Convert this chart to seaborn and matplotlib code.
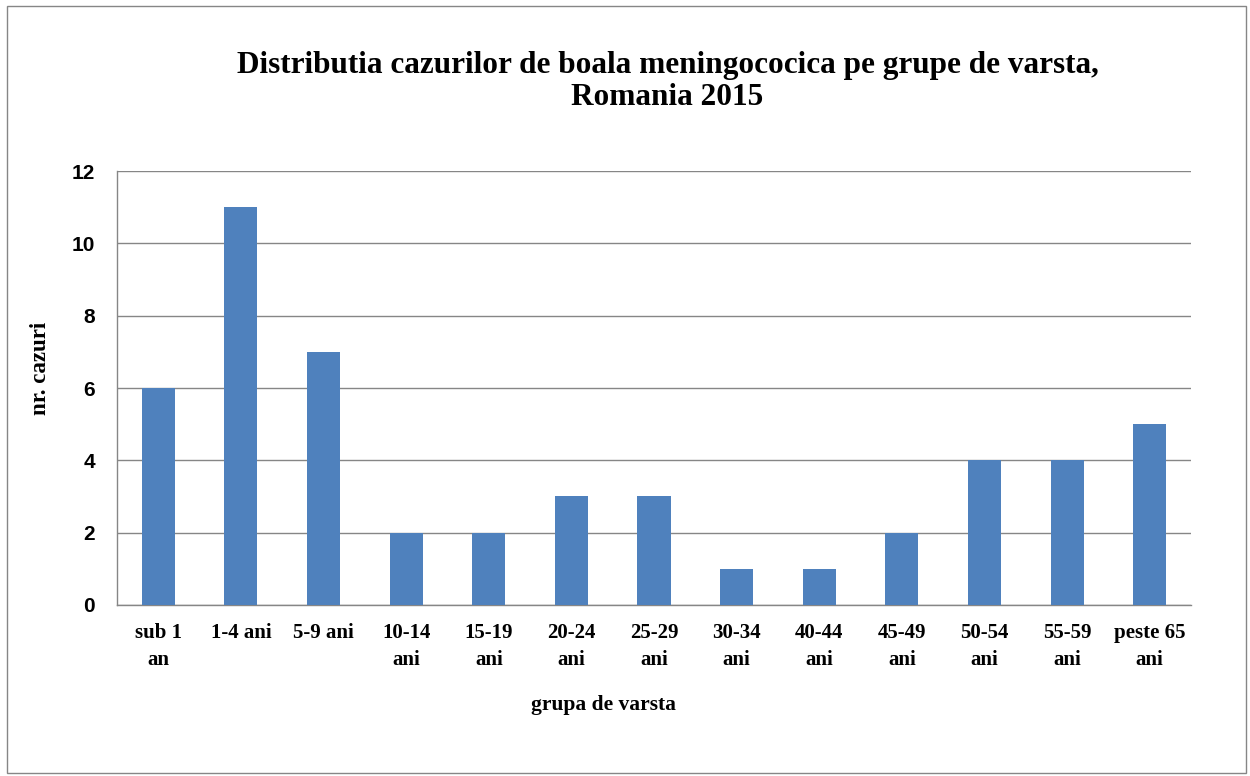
import pandas as pd
import matplotlib.pyplot as plt
import seaborn as sns
from matplotlib.patches import Rectangle

# Data

grupe = ['sub 1\nan', '1-4 ani', '5-9 ani', '10-14\nani', '15-19\nani', '20-24\nani', '25-29\nani',
         '30-34\nani', '40-44\nani', '45-49\nani', '50-54\nani', '55-59\nani', 'peste 65\nani']
cazuri = [6, 11, 7, 2, 2, 3, 3, 1, 1, 2, 4, 4, 5]

dtf = pd.DataFrame({'grupa': grupe, 'cazuri': cazuri})

sns.set_style('white')
plt.rcParams['text.color'] = 'black'
plt.rcParams['xtick.color'] = 'black'
plt.rcParams['ytick.color'] = 'black'
serif = ['Liberation Serif', 'DejaVu Serif']
sans = ['Liberation Sans', 'DejaVu Sans']

fig = plt.figure(figsize=(12.5, 7.76), dpi=100)
ax = fig.add_axes([0.0936, 0.2204, 0.8592, 0.5592])

sns.barplot(data=dtf, x='grupa', y='cazuri', color='#4F81BD', saturation=1, width=0.4,
            linewidth=0, ax=ax, zorder=3)

ax.set_ylim(0, 12)
ax.set_yticks(range(0, 13, 2))
ax.yaxis.grid(True, color='#868686', lw=1, zorder=0)
ax.set_xlim(-0.5, len(grupe) - 0.5)

for s in ['top', 'right']:
    ax.spines[s].set_visible(False)
for s in ['left', 'bottom']:
    ax.spines[s].set_color('#868686')
    ax.spines[s].set_linewidth(1)

ax.tick_params(axis='both', length=0, labelcolor='black')
ax.tick_params(axis='y', pad=16)
ax.tick_params(axis='x', pad=13)
for lbl in ax.get_yticklabels():
    lbl.set_family(sans)
    lbl.set_fontweight('bold')
    lbl.set_fontsize(15)
for lbl in ax.get_xticklabels():
    lbl.set_family(serif)
    lbl.set_fontweight('bold')
    lbl.set_fontsize(15)
    lbl.set_linespacing(1.45)

ax.set_xlabel('')
ax.set_ylabel('')

fig.text(0.483, 0.0915, 'grupa de varsta', ha='center', va='center', color='black',
         family=serif, fontweight='bold', fontsize=15.5)
fig.text(0.032, 0.525, 'nr. cazuri', ha='center', va='center', rotation=90, color='black',
         family=serif, fontweight='bold', fontsize=16.5)
fig.text(0.534, 0.895, 'Distributia cazurilor de boala meningococica pe grupe de varsta,\nRomania 2015',
         ha='center', va='center', color='black', family=serif, fontweight='bold',
         fontsize=22.5, linespacing=1.15)

# figure frame
fig.patches.append(Rectangle((0.0056, 0.004), 0.9912, 0.988, transform=fig.transFigure,
                             fill=False, edgecolor='#868686', lw=1))

fig.savefig('out.png', dpi=100)
